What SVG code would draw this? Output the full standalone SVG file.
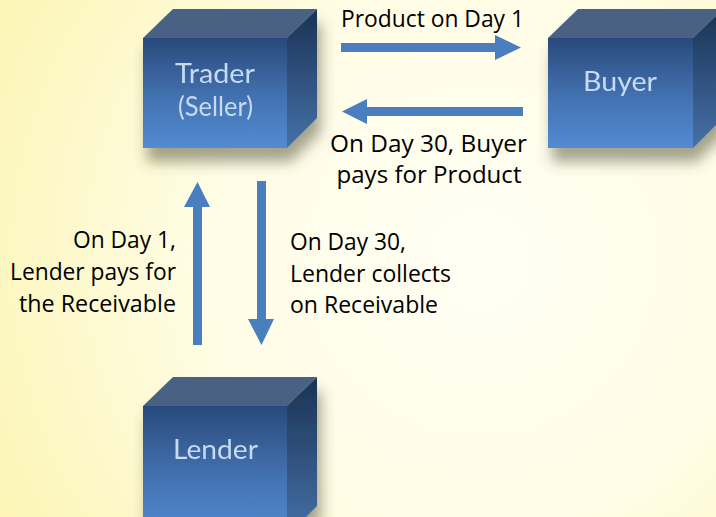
<svg xmlns="http://www.w3.org/2000/svg" width="716" height="517" viewBox="0 0 716 517">
  <defs>
    <radialGradient id="bg" cx="480" cy="260" r="540" gradientUnits="userSpaceOnUse">
      <stop offset="0" stop-color="#fffff4"/>
      <stop offset="0.5" stop-color="#fffde6"/>
      <stop offset="1" stop-color="#fcf5b6"/>
    </radialGradient>
    <linearGradient id="front" x1="0" y1="0" x2="0" y2="1">
      <stop offset="0" stop-color="#294a7a"/>
      <stop offset="0.5" stop-color="#416fad"/>
      <stop offset="1" stop-color="#538bd3"/>
    </linearGradient>
    <linearGradient id="side" x1="0" y1="0" x2="0" y2="1">
      <stop offset="0" stop-color="#1a3254"/>
      <stop offset="1" stop-color="#4571a8"/>
    </linearGradient>
    <filter id="shadow" x="-20%" y="-20%" width="150%" height="170%">
      <feGaussianBlur in="SourceAlpha" stdDeviation="7"/>
      <feOffset dx="4" dy="14" result="blur"/>
      <feFlood flood-color="#4a4a30" flood-opacity="0.5"/>
      <feComposite in2="blur" operator="in"/>
      <feMerge>
        <feMergeNode/>
        <feMergeNode in="SourceGraphic"/>
      </feMerge>
    </filter>
  </defs>
  <style>
    .front { fill: url(#front); }
    .top { fill: #4a6283; }
    .side { fill: url(#side); }
    .cube-label { font-family: Lato, "Noto Sans", sans-serif; fill: #c6daf2; text-anchor: middle; }
    .label { font-family: "Open Sans", "Liberation Sans", sans-serif; font-size: 23px; fill: #000; }
    .arrow { fill: #4a7ebe; }
  </style>

  <rect width="716" height="517" fill="url(#bg)"/>

  <!-- connectors -->
  <g id="connectors">
    <path class="arrow" d="M341,43 H495 V35 L521,47.5 L495,60 V52 H341 Z"/>
    <path class="arrow" d="M523,107 H367 V99 L342,111.5 L367,124 V116 H523 Z"/>
    <path class="arrow" d="M193,345 V207 H184 L197.5,182 L210,207 H202 V345 Z"/>
    <path class="arrow" d="M257,181 V319 H248 L261.5,345 L274,319 H266 V181 Z"/>
  </g>

  <!-- arrow labels -->
  <g id="labels">
    <text class="label" x="341" y="27" textLength="183" lengthAdjust="spacingAndGlyphs">Product on Day 1</text>
    <text class="label" x="330" y="152" textLength="197" lengthAdjust="spacingAndGlyphs">On Day 30, Buyer</text>
    <text class="label" x="336.5" y="183" textLength="185" lengthAdjust="spacingAndGlyphs">pays for Product</text>
    <text class="label" x="73" y="248" textLength="103" lengthAdjust="spacingAndGlyphs">On Day 1,</text>
    <text class="label" x="10" y="280" textLength="166" lengthAdjust="spacingAndGlyphs">Lender pays for</text>
    <text class="label" x="19" y="312" textLength="157" lengthAdjust="spacingAndGlyphs">the Receivable</text>
    <text class="label" x="290" y="250" textLength="116" lengthAdjust="spacingAndGlyphs">On Day 30,</text>
    <text class="label" x="290" y="282" textLength="161" lengthAdjust="spacingAndGlyphs">Lender collects</text>
    <text class="label" x="290" y="313" textLength="148" lengthAdjust="spacingAndGlyphs">on Receivable</text>
  </g>

  <!-- Trader cube -->
  <g id="trader" filter="url(#shadow)">
    <polygon class="top" points="143,38 173,9 317,9 287,38"/>
    <polygon class="side" points="287,38 317,9 317,118 287,148"/>
    <rect class="front" x="143" y="38" width="144" height="110"/>
    <text class="cube-label" x="215" y="83" font-size="26" textLength="80" lengthAdjust="spacingAndGlyphs">Trader</text>
    <text class="cube-label" x="215.5" y="116" font-size="26" textLength="75" lengthAdjust="spacingAndGlyphs">(Seller)</text>
  </g>

  <!-- Buyer cube -->
  <g id="buyer" filter="url(#shadow)">
    <polygon class="top" points="548,38 578,9 723,9 693,38"/>
    <polygon class="side" points="693,38 723,9 723,118 693,148"/>
    <rect class="front" x="548" y="38" width="145" height="110"/>
    <text class="cube-label" x="620" y="91" font-size="26" textLength="74" lengthAdjust="spacingAndGlyphs">Buyer</text>
  </g>

  <!-- Lender cube -->
  <g id="lender" filter="url(#shadow)">
    <polygon class="top" points="143,406 173,377 317,377 287,406"/>
    <polygon class="side" points="287,406 317,377 317,506 287,536"/>
    <rect class="front" x="143" y="406" width="144" height="130"/>
    <text class="cube-label" x="215.5" y="459" font-size="26" textLength="85" lengthAdjust="spacingAndGlyphs">Lender</text>
  </g>
</svg>
